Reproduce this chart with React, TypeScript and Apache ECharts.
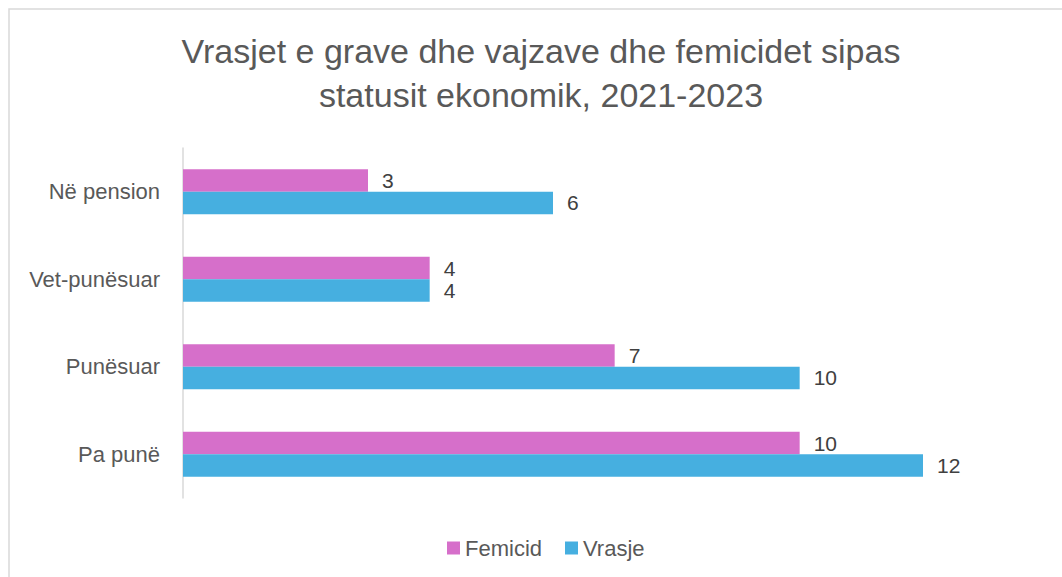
import React, { useEffect, useRef } from "react";
import * as echarts from "echarts";

const categories = ["Pa punë", "Punësuar", "Vet-punësuar", "Në pension"];
const femicid = [10, 7, 4, 3];
const vrasje = [12, 10, 4, 6];
const seriesNames = ["Femicid", "Vrasje"];
const titleText = "Vrasjet e grave dhe vajzave dhe femicidet sipas\nstatusit ekonomik, 2021-2023";

const FONT = "'Liberation Sans', Arial, Helvetica, sans-serif";

export default function App() {
  const ref = useRef<HTMLDivElement>(null);
  useEffect(() => {
    if (!ref.current) return;
    const chart = echarts.init(ref.current, null, { renderer: "svg" });
    chart.setOption({
      animation: false,
      backgroundColor: "#ffffff",
      graphic: [
        {
          type: "rect",
          shape: { x: 9, y: 9, width: 1100, height: 620 },
          style: { fill: "none", stroke: "#d9d9d9", lineWidth: 1.5 },
          silent: true,
        },
      ],
      title: {
        text: titleText,
        left: 541,
        top: 29,
        padding: 0,
        textAlign: "center",
        textStyle: {
          fontFamily: FONT,
          fontSize: 34,
          fontWeight: "normal",
          color: "#595959",
          lineHeight: 44,
        },
      },
      legend: {
        data: seriesNames,
        left: 447,
        top: 537,
        padding: 0,
        itemWidth: 13,
        itemHeight: 13,
        itemGap: 23,
        icon: "rect",
        textStyle: { fontFamily: FONT, fontSize: 22, color: "#595959" },
      },
      grid: { left: 183, right: 139, top: 148, bottom: 79, containLabel: false },
      xAxis: {
        type: "value",
        min: 0,
        max: 12,
        show: false,
      },
      yAxis: {
        type: "category",
        data: categories,
        axisLine: { show: true, lineStyle: { color: "#d9d9d9", width: 1.5 } },
        axisTick: { show: false },
        axisLabel: {
          fontFamily: FONT,
          fontSize: 22,
          color: "#595959",
          margin: 23,
        },
        splitLine: { show: false },
      },
      series: [
        {
          name: seriesNames[0],
          type: "bar",
          data: femicid,
          itemStyle: { color: "#d66fca" },
          barGap: "0%",
          barCategoryGap: "48.6%",
          label: {
            show: true,
            position: "right",
            distance: 14,
            fontFamily: FONT,
            fontSize: 21,
            color: "#404040",
          },
        },
        {
          name: seriesNames[1],
          type: "bar",
          data: vrasje,
          itemStyle: { color: "#46afe0" },
          barGap: "0%",
          barCategoryGap: "48.6%",
          label: {
            show: true,
            position: "right",
            distance: 14,
            fontFamily: FONT,
            fontSize: 21,
            color: "#404040",
          },
        },
      ],
    });
    return () => chart.dispose();
  }, []);
  return (
    <div
      ref={ref}
      style={{ position: "absolute", left: 0, top: 0, width: 1062, height: 577 }}
    />
  );
}
